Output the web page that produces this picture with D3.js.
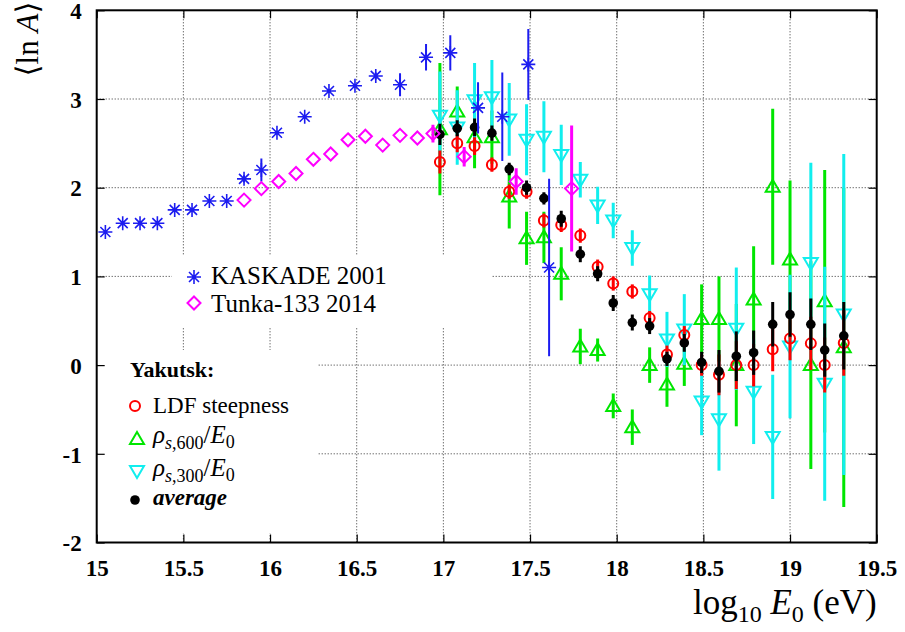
<!DOCTYPE html>
<html>
<head>
<meta charset="utf-8">
<script src="https://cdn.jsdelivr.net/npm/d3@7"></script>
<style>
  body { margin: 0; background: #fff; }
  svg { display: block; }
  text { font-family: "Liberation Serif", "DejaVu Serif", serif; }
</style>
</head>
<body>
<svg id="chart" width="905" height="632"></svg>
<script>
// KASKADE 2001
const kaskadeE   = [15.05, 15.15, 15.25, 15.35, 15.45, 15.55, 15.65, 15.75, 15.85, 15.95, 16.04, 16.20, 16.34, 16.49, 16.61, 16.75, 16.90, 17.04, 17.20, 17.34, 17.49, 17.61];
const kaskadeLnA = [1.50, 1.60, 1.60, 1.60, 1.75, 1.75, 1.85, 1.85, 2.10, 2.20, 2.62, 2.80, 3.09, 3.15, 3.26, 3.16, 3.47, 3.52, 2.90, 2.80, 3.39, 1.10];
const kaskadeErr = [0, 0, 0, 0, 0, 0, 0, 0, 0.04, 0.13, 0, 0, 0, 0, 0.04, 0.13, 0.15, 0.20, 0.29, 0.50, 0.40, 1.00];

// Tunka-133 2014
const tunkaE   = [15.85, 15.95, 16.05, 16.15, 16.25, 16.35, 16.45, 16.55, 16.65, 16.75, 16.85, 16.94, 17.12, 17.42, 17.74];
const tunkaLnA = [1.86, 1.99, 2.07, 2.16, 2.32, 2.38, 2.54, 2.58, 2.48, 2.59, 2.56, 2.61, 2.35, 2.07, 1.99];
const tunkaErr = [0, 0, 0, 0, 0, 0, 0, 0, 0, 0, 0, 0.10, 0.11, 0.15, 0.71];

// Yakutsk
const yakE = [16.98, 17.08, 17.18, 17.28, 17.38, 17.48, 17.58, 17.68, 17.79, 17.89, 17.98, 18.09,
              18.19, 18.29, 18.39, 18.49, 18.59, 18.69, 18.79, 18.90, 19.00, 19.12, 19.20, 19.31];
const ldf    = [2.29, 2.50, 2.47, 2.26, 1.955, 1.955, 1.63, 1.58, 1.46, 1.11, 0.92, 0.83,
                0.53, 0.12, 0.34, 0.0, -0.11, 0.0, 0.0, 0.18, 0.30, 0.245, 0.0, 0.25];
const ldfErr = [0.13, 0.10, 0.10, 0.08, 0.08, 0.08, 0.08, 0.08, 0.08, 0.08, 0.08, 0.08,
                0.08, 0.10, 0.10, 0.12, 0.23, 0.27, 0.24, 0.25, 0.245, 0.30, 0.31, 0.37];
const rho600    = [2.66, 2.86, 2.57, 2.57, 1.90, 1.43, 1.44, 1.03, 0.21, 0.17, -0.46, -0.70,
                   0.0, -0.22, 0.015, 0.52, 0.52, 0.0, 0.74, 2.01, 1.19, 0.0, 0.72, 0.20];
const rho600Err = [0.745, 0.28, 0.35, 0.30, 0.36, 0.30, 0.29, 0.30, 0.20, 0.13, 0.14, 0.20,
                   0.20, 0.25, 0.25, 0.39, 0.48, 0.69, 0.60, 0.88, 0.89, 1.17, 1.48, 1.80];
const rho300    = [2.81, 2.68, 2.985, 3.02, 2.77, 2.54, 2.575, 2.37, 2.09, 1.80, 1.63, 1.32,
                   0.80, 0.29, 0.40, -0.41, -0.61, 0.41, -0.30, -0.81, 0.21, 1.15, -0.21, 0.57];
const rho300Err = [0.50, 0.42, 0.42, 0.42, 0.41, 0.40, 0.40, 0.34, 0.20, 0.21, 0.20, 0.20,
                   0.21, 0.31, 0.40, 0.38, 0.58, 0.69, 0.59, 0.70, 0.81, 1.13, 1.32, 1.81];
const average    = [2.60, 2.67, 2.68, 2.615, 2.21, 2.00, 1.88, 1.65, 1.25, 1.03, 0.70, 0.48,
                    0.44, 0.07, 0.25, 0.03, -0.07, 0.10, 0.14, 0.46, 0.57, 0.46, 0.17, 0.33];
const averageErr = [0.12, 0.09, 0.10, 0.085, 0.07, 0.08, 0.07, 0.09, 0.09, 0.085, 0.09, 0.09,
                    0.09, 0.08, 0.10, 0.12, 0.24, 0.28, 0.25, 0.25, 0.25, 0.29, 0.30, 0.38];

const xTicks = [15, 15.5, 16, 16.5, 17, 17.5, 18, 18.5, 19, 19.5];
const yTicks = [-2, -1, 0, 1, 2, 3, 4];

const svg = d3.select("#chart");
const pL = 96.7, pR = 876.7, pT = 10.3, pB = 542.5;

const x = d3.scaleLinear().domain([15, 19.5]).range([pL, pR]);
const y = d3.scaleLinear().domain([-2, 4]).range([pB, pT]);

const BLUE = "#1c1cf0", MAGENTA = "#ff00ff", RED = "#ff0000",
      GREEN = "#00e600", CYAN = "#11eeee", BLACK = "#000";

// marker shapes
const shapes = {
  star: "M-7,0H7M0,-7V7M-5,-5L5,5M-5,5L5,-5",
  diamond: "M0,-6.5L6.5,0L0,6.5L-6.5,0Z",
  up: "M0,-7L7,5L-7,5Z",
  down: "M0,7L7,-5L-7,-5Z"
};

svg.append("defs").append("clipPath").attr("id", "plot")
  .append("rect").attr("x", pL).attr("y", pT)
  .attr("width", pR - pL).attr("height", pB - pT);

// grid
const grid = svg.append("g").attr("stroke", "#333").attr("stroke-width", 1)
  .attr("stroke-dasharray", "1,2");
grid.selectAll(".gx").data(xTicks.slice(1, -1)).enter().append("line")
  .attr("x1", d => x(d)).attr("x2", d => x(d)).attr("y1", pT).attr("y2", pB);
grid.selectAll(".gy").data(yTicks.slice(1, -1)).enter().append("line")
  .attr("y1", d => y(d)).attr("y2", d => y(d)).attr("x1", pL).attr("x2", pR);

// key boxes hide the grid
svg.append("rect").attr("x", 172).attr("y", 255).attr("width", 319).attr("height", 72).attr("fill", "#fff");
svg.append("rect").attr("x", pL + 1).attr("y", 350).attr("width", 316 - pL).attr("height", 183).attr("fill", "#fff");

const plot = svg.append("g").attr("clip-path", "url(#plot)");

function errBars(xs, ys, es, color, w) {
  plot.append("g").selectAll("line").data(xs.map((d, i) => i).filter(i => es[i] > 0)).enter()
    .append("line")
    .attr("x1", i => x(xs[i])).attr("x2", i => x(xs[i]))
    .attr("y1", i => y(ys[i] - es[i])).attr("y2", i => y(ys[i] + es[i]))
    .attr("stroke", color).attr("stroke-width", w);
}

function markers(xs, ys, shape, color, w) {
  plot.append("g").selectAll("path").data(xs.map((d, i) => i)).enter()
    .append("path")
    .attr("transform", i => `translate(${x(xs[i])},${y(ys[i])})`)
    .attr("d", shapes[shape])
    .attr("fill", "none").attr("stroke", color).attr("stroke-width", w);
}

function dots(xs, ys, color, r) {
  plot.append("g").selectAll("circle").data(xs.map((d, i) => i)).enter()
    .append("circle")
    .attr("cx", i => x(xs[i])).attr("cy", i => y(ys[i])).attr("r", r)
    .attr("fill", color);
}

function rings(xs, ys, color, r) {
  plot.append("g").selectAll("circle").data(xs.map((d, i) => i)).enter()
    .append("circle")
    .attr("cx", i => x(xs[i])).attr("cy", i => y(ys[i])).attr("r", r)
    .attr("fill", "none").attr("stroke", color).attr("stroke-width", 2);
}

// Yakutsk series
errBars(yakE, rho600, rho600Err, GREEN, 3);
markers(yakE, rho600, "up", GREEN, 2);
errBars(yakE, rho300, rho300Err, CYAN, 3);
markers(yakE, rho300, "down", CYAN, 2);
errBars(yakE, ldf, ldfErr, RED, 3);
rings(yakE, ldf, RED, 5);
errBars(yakE, average, averageErr, BLACK, 3);
dots(yakE, average, BLACK, 4.8);

// other experiments
errBars(kaskadeE, kaskadeLnA, kaskadeErr, BLUE, 2);
markers(kaskadeE, kaskadeLnA, "star", BLUE, 1.6);
errBars(tunkaE, tunkaLnA, tunkaErr, MAGENTA, 3);
markers(tunkaE, tunkaLnA, "diamond", MAGENTA, 2);

// axes
const axB = svg.append("g").attr("transform", `translate(0,${pB})`)
  .call(d3.axisBottom(x).tickValues(xTicks).tickSize(-8).tickPadding(17).tickFormat(d => String(d)));
const axL = svg.append("g").attr("transform", `translate(${pL},0)`)
  .call(d3.axisLeft(y).tickValues(yTicks).tickSize(-8).tickPadding(15).tickFormat(d => String(d)));
svg.append("g").attr("transform", `translate(0,${pT})`)
  .call(d3.axisTop(x).tickValues(xTicks).tickSize(-8).tickFormat(""));
svg.append("g").attr("transform", `translate(${pR},0)`)
  .call(d3.axisRight(y).tickValues(yTicks).tickSize(-8).tickFormat(""));
svg.selectAll(".domain").remove();
svg.selectAll(".tick line").attr("stroke", "#000").attr("stroke-width", 1.2);
svg.selectAll(".tick text")
  .attr("font-family", "'Liberation Serif', serif").attr("font-size", 23)
  .attr("font-weight", "bold").attr("fill", "#000");
axL.selectAll(".tick text").attr("dy", "0.36em");

svg.append("rect").attr("x", pL).attr("y", pT)
  .attr("width", pR - pL).attr("height", pB - pT)
  .attr("fill", "none").attr("stroke", "#000").attr("stroke-width", 2);

// axis titles
const xt = svg.append("text").attr("x", pR).attr("y", 614)
  .attr("text-anchor", "end").attr("font-size", 35);
xt.append("tspan").text("log");
xt.append("tspan").attr("dy", 8).attr("font-size", 24).text("10");
xt.append("tspan").attr("dy", -8).text(" ");
xt.append("tspan").attr("font-style", "italic").text("E");
xt.append("tspan").attr("dy", 8).attr("font-size", 24).text("0");
xt.append("tspan").attr("dy", -8).text(" (eV)");

const yt = svg.append("text").attr("transform", "translate(38,39) rotate(-90)")
  .attr("text-anchor", "middle").attr("font-size", 31);
yt.append("tspan").text("\u27e8ln ");
yt.append("tspan").attr("font-style", "italic").text("A");
yt.append("tspan").text("\u27e9");

// key: other experiments
const key = svg.append("g");
key.append("path").attr("transform", "translate(194,277)").attr("d", shapes.star)
  .attr("fill", "none").attr("stroke", BLUE).attr("stroke-width", 1.6);
key.append("text").attr("x", 211).attr("y", 284).attr("font-size", 25).text("KASKADE 2001");
key.append("path").attr("transform", "translate(194,303)").attr("d", shapes.diamond)
  .attr("fill", "none").attr("stroke", MAGENTA).attr("stroke-width", 2);
key.append("text").attr("x", 211).attr("y", 312).attr("font-size", 25).text("Tunka-133 2014");

// key: Yakutsk
key.append("text").attr("x", 130).attr("y", 377).attr("font-size", 22)
  .attr("font-weight", "bold").text("Yakutsk:");
key.append("circle").attr("cx", 135).attr("cy", 406).attr("r", 5)
  .attr("fill", "none").attr("stroke", RED).attr("stroke-width", 2);
key.append("text").attr("x", 153).attr("y", 413).attr("font-size", 23).text("LDF steepness");

function rhoLabel(yy, sub) {
  const t = key.append("text").attr("x", 153).attr("y", yy).attr("font-size", 25);
  t.append("tspan").attr("font-style", "italic").text("\u03c1");
  t.append("tspan").attr("dy", 6).attr("font-size", 18).attr("font-style", "italic").text("s");
  t.append("tspan").attr("font-size", 18).text("," + sub);
  t.append("tspan").attr("dy", -6).text("/");
  t.append("tspan").attr("font-style", "italic").text("E");
  t.append("tspan").attr("dy", 5).attr("font-size", 18).text("0");
}
key.append("path").attr("transform", "translate(137,439)").attr("d", shapes.up)
  .attr("fill", "none").attr("stroke", GREEN).attr("stroke-width", 2);
rhoLabel(443, "600");
key.append("path").attr("transform", "translate(137,471)").attr("d", shapes.down)
  .attr("fill", "none").attr("stroke", CYAN).attr("stroke-width", 2);
rhoLabel(476, "300");
key.append("circle").attr("cx", 135).attr("cy", 500).attr("r", 4.8).attr("fill", BLACK);
key.append("text").attr("x", 153).attr("y", 505).attr("font-size", 23)
  .attr("font-weight", "bold").attr("font-style", "italic").text("average");
</script>
</body>
</html>
